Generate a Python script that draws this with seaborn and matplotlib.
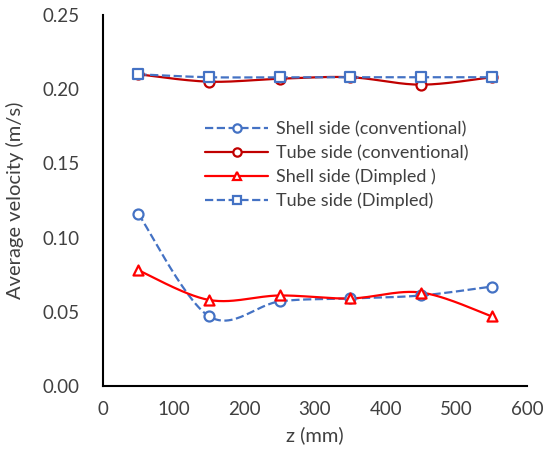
import numpy as np
import pandas as pd
import matplotlib
matplotlib.use("Agg")
import matplotlib.pyplot as plt
from matplotlib.lines import Line2D
import seaborn as sns

z_mm = [50, 150, 250, 350, 450, 550]
shell_conv = [0.116, 0.047, 0.057, 0.059, 0.061, 0.067]
tube_conv = [0.210, 0.205, 0.207, 0.208, 0.203, 0.208]
shell_dimp = [0.078, 0.058, 0.061, 0.059, 0.063, 0.047]
tube_dimp = [0.210, 0.208, 0.208, 0.208, 0.208, 0.208]

labels = ["Shell side (conventional)", "Tube side (conventional)",
          "Shell side (Dimpled )", "Tube side (Dimpled)"]
series = [shell_conv, tube_conv, shell_dimp, tube_dimp]
colors = ["#4472C4", "#C00000", "#FF0000", "#4472C4"]
styles = ["--", "-", "-", "--"]
markers = ["o", "o", "^", "s"]

x_ticks = [0, 100, 200, 300, 400, 500, 600]
y_ticks = [0.00, 0.05, 0.10, 0.15, 0.20, 0.25]


def smooth(x, y, n=30):
    """Excel-like smoothed line (Catmull-Rom / Bezier) through the points."""
    x = np.asarray(x, float)
    y = np.asarray(y, float)
    px = np.concatenate([[x[0]], x, [x[-1]]])
    py = np.concatenate([[y[0]], y, [y[-1]]])
    xs, ys = [], []
    t = np.linspace(0, 1, n)
    for i in range(1, len(px) - 2):
        p0 = np.array([px[i], py[i]])
        p3 = np.array([px[i + 1], py[i + 1]])
        p1 = p0 + (np.array([px[i + 1], py[i + 1]]) - np.array([px[i - 1], py[i - 1]])) / 6
        p2 = p3 - (np.array([px[i + 2], py[i + 2]]) - np.array([px[i], py[i]])) / 6
        b = ((1 - t) ** 3)[:, None] * p0 + (3 * (1 - t) ** 2 * t)[:, None] * p1 \
            + (3 * (1 - t) * t ** 2)[:, None] * p2 + (t ** 3)[:, None] * p3
        xs.extend(b[:, 0])
        ys.extend(b[:, 1])
    return np.array(xs), np.array(ys)


sns.set_style("white")
plt.rcParams["font.family"] = ["Lato", "DejaVu Sans"]

fig = plt.figure(figsize=(5.45, 4.51), dpi=100)
ax = fig.add_axes([0.189, 0.144, 0.778, 0.823])

handles = []
for lab, vals, c, ls, m in zip(labels, series, colors, styles, markers):
    sx, sy = smooth(z_mm, vals)
    df_line = pd.DataFrame({"z": sx, "v": sy})
    sns.lineplot(data=df_line, x="z", y="v", sort=False, estimator=None,
                 color=c, linestyle=ls, linewidth=1.6, ax=ax, legend=False)
    df_pts = pd.DataFrame({"z": z_mm, "v": vals})
    sns.scatterplot(data=df_pts, x="z", y="v", marker=m, s=52,
                    facecolor="white", edgecolor=c, linewidth=1.6,
                    ax=ax, legend=False, zorder=3)
    handles.append(Line2D([0], [0], color=c, linestyle=ls, linewidth=1.6,
                          marker=m, markersize=6, markerfacecolor="white",
                          markeredgecolor=c, markeredgewidth=1.6))

ax.set_xlim(0, 600)
ax.set_ylim(0, 0.25)
ax.set_xticks(x_ticks)
ax.set_yticks(y_ticks)
ax.set_xticklabels([str(v) for v in x_ticks])
ax.set_yticklabels([f"{v:.2f}" for v in y_ticks])
ax.tick_params(direction="in", length=6, width=1.3, labelsize=13.5,
               colors="black", labelcolor="#404040")
ax.tick_params(axis="y", pad=17)
ax.tick_params(axis="x", pad=11)
for s in ["top", "right"]:
    ax.spines[s].set_visible(False)
for s in ["left", "bottom"]:
    ax.spines[s].set_color("black")
    ax.spines[s].set_linewidth(1.5)

ax.set_xlabel("z (mm)", fontsize=14.5, color="#404040", labelpad=6)
ax.set_ylabel("Average velocity (m/s)", fontsize=14.5, color="#404040", labelpad=13)

leg = ax.legend(handles, labels, loc="upper left", bbox_to_anchor=(0.202, 0.757),
                frameon=False, fontsize=13, handlelength=3.5, handletextpad=0.45,
                labelspacing=0.42, labelcolor="#404040")

fig.savefig("out.png", dpi=100)
